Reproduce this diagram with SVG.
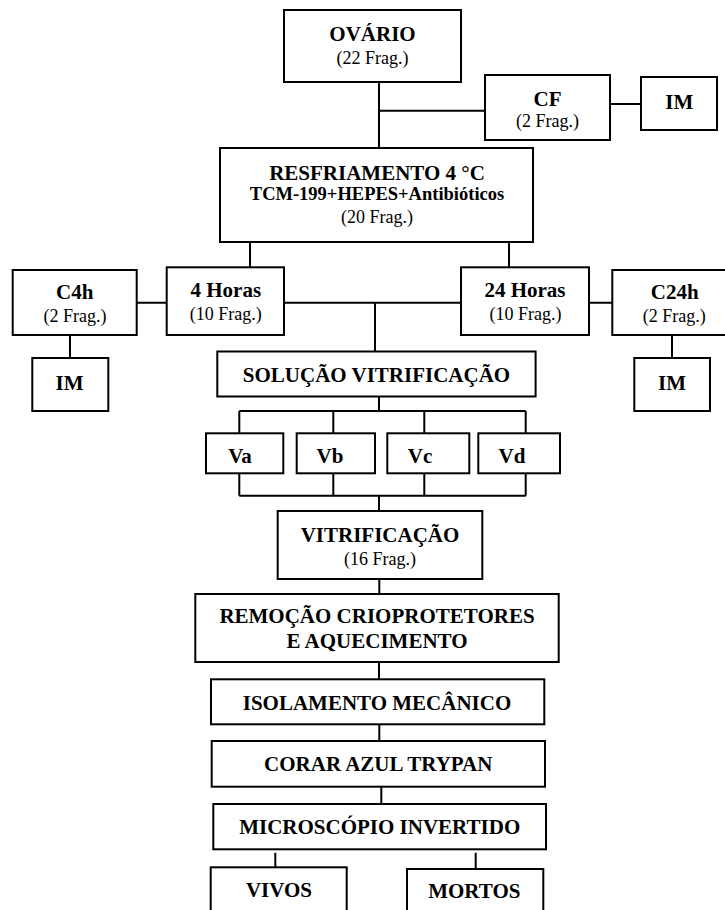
<svg xmlns="http://www.w3.org/2000/svg" width="725" height="910" viewBox="0 0 725 910">
<style>
rect{fill:#fff;stroke:#000;stroke-width:2}
.c path{fill:none;stroke:#000;stroke-width:2}
text{font-family:"Liberation Serif","Times New Roman",serif;text-anchor:middle;fill:#000}
.b{font-weight:bold;font-size:21px}
.s{font-weight:bold;font-size:18.5px}
.r{font-size:18px}
</style>
<rect x="0" y="0" width="725" height="910" style="stroke:none"/>
<g class="c" id="connectors">
<path d="M379 82V148M379 110.7H485M610 104H641"/>
<path d="M250 242V267.3M509 242V267.3"/>
<path d="M136.7 302.7H166.7M284 302.7H461M589 302.7H612.3M375 302.7V351.5"/>
<path d="M70 335V358M672 335V358"/>
<path d="M379 396.5V411M239.3 411H525.7M239.3 411V433.3M333.3 411V433.3M424.3 411V433.3M525.7 411V433.3"/>
<path d="M239.3 473.3V495.7M333.3 473.3V495.7M424.3 473.3V495.7M525.7 473.3V495.7M239.3 495.7H525.7M379 495.7V511"/>
<path d="M379.3 579V594M379 662V679.3M379.3 724.3V741M381.3 786.7V804"/>
<path d="M275.3 852.7V867.3M475.7 852.7V869"/>
</g>
<g id="ovario"><rect x="284" y="10" width="177" height="72"/><text class="b" x="372.5" y="40.5">OVÁRIO</text><text class="r" x="372.5" y="63.5">(22 Frag.)</text></g>
<g id="cf"><rect x="485" y="75" width="125" height="65"/><text class="b" x="547.5" y="106">CF</text><text class="r" x="547.5" y="126.5">(2 Frag.)</text></g>
<g id="im1"><rect x="641" y="77" width="76" height="53"/><text class="b" x="679.3" y="109.3">IM</text></g>
<g id="resfriamento"><rect x="220" y="148" width="313" height="94"/><text class="b" x="377" y="180">RESFRIAMENTO 4 °C</text><text class="s" x="377" y="200">TCM-199+HEPES+Antibióticos</text><text class="r" x="377" y="222.7">(20 Frag.)</text></g>
<g id="c4h"><rect x="12.7" y="270" width="124" height="65"/><text class="b" x="74.7" y="299.3">C4h</text><text class="r" x="75" y="321.7">(2 Frag.)</text></g>
<g id="h4"><rect x="166.7" y="267.3" width="117.3" height="67.7"/><text class="b" x="225.8" y="297.3">4 Horas</text><text class="r" x="225.7" y="319.5">(10 Frag.)</text></g>
<g id="h24"><rect x="461" y="267.3" width="128" height="67.7"/><text class="b" x="525" y="297.3">24 Horas</text><text class="r" x="525.5" y="319.5">(10 Frag.)</text></g>
<g id="c24h"><rect x="612.3" y="270" width="116" height="65"/><text class="b" x="674.7" y="299.3">C24h</text><text class="r" x="674.3" y="321.7">(2 Frag.)</text></g>
<g id="im_c4h"><rect x="32.3" y="358" width="76" height="53"/><text class="b" x="69.5" y="390">IM</text></g>
<g id="im_c24h"><rect x="634.3" y="358" width="75.7" height="53"/><text class="b" x="672" y="389.5">IM</text></g>
<g id="solucao"><rect x="217.3" y="351.5" width="318.3" height="45"/><text class="b" x="376.5" y="382">SOLUÇÃO VITRIFICAÇÃO</text></g>
<g id="va"><rect x="206" y="433.3" width="77.3" height="40"/><text class="b" x="240" y="463.3">Va</text></g>
<g id="vb"><rect x="296.7" y="433.3" width="78.3" height="40"/><text class="b" x="330" y="463.3">Vb</text></g>
<g id="vc"><rect x="387.3" y="433.3" width="82" height="40"/><text class="b" x="420" y="463.3">Vc</text></g>
<g id="vd"><rect x="478.3" y="433.3" width="81.7" height="40"/><text class="b" x="512" y="463.3">Vd</text></g>
<g id="vitrificacao"><rect x="277.7" y="511" width="204.6" height="68"/><text class="b" x="380" y="541.7">VITRIFICAÇÃO</text><text class="r" x="380" y="564.5">(16 Frag.)</text></g>
<g id="remocao"><rect x="195.3" y="594" width="363.4" height="68"/><text class="b" x="377" y="623.3">REMOÇÃO CRIOPROTETORES</text><text class="b" x="377" y="648.3">E AQUECIMENTO</text></g>
<g id="isolamento"><rect x="211" y="679.3" width="333.3" height="45"/><text class="b" x="377" y="710">ISOLAMENTO MECÂNICO</text></g>
<g id="corar"><rect x="211.7" y="741" width="333.3" height="45.7"/><text class="b" x="378.3" y="771">CORAR AZUL TRYPAN</text></g>
<g id="microscopio"><rect x="213.3" y="804" width="332.7" height="45.3"/><text class="b" x="379.7" y="834">MICROSCÓPIO INVERTIDO</text></g>
<g id="vivos"><rect x="210.7" y="867.3" width="136" height="60"/><text class="b" x="279" y="896.7">VIVOS</text></g>
<g id="mortos"><rect x="407" y="869" width="136.3" height="60"/><text class="b" x="474.3" y="898.3">MORTOS</text></g>
</svg>
